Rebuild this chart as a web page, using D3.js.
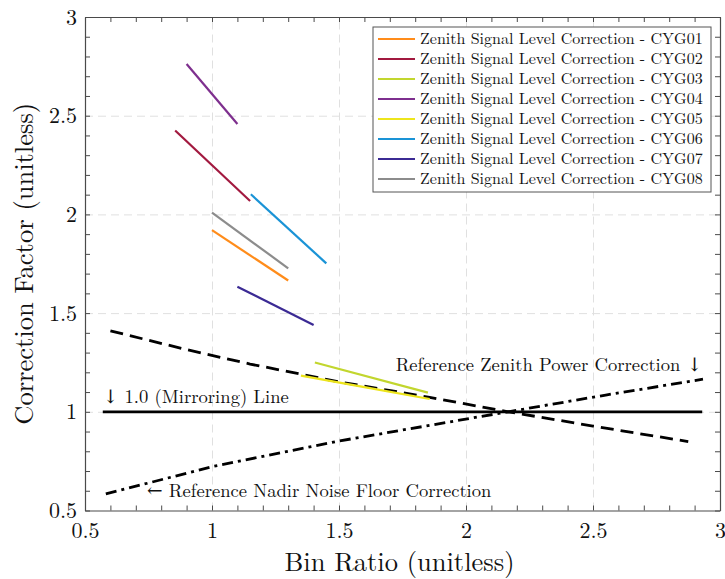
<!DOCTYPE html>
<html>
<head>
<meta charset="utf-8">
<script src="https://cdn.jsdelivr.net/npm/d3@7"></script>
<style>
  body { margin: 0; background: #fff; }
  svg text { font-family: "Latin Modern Roman", "Liberation Serif", serif; }
  svg tspan.arrow { font-family: "DejaVu Serif", "DejaVu Sans", serif; }
</style>
</head>
<body>
<svg id="chart" width="725" height="579"></svg>
<script>
// zenith signal level correction per spacecraft, [bin ratio, factor]
const seriesNames = ["CYG01", "CYG02", "CYG03", "CYG04", "CYG05", "CYG06", "CYG07", "CYG08"];
const seriesColors = ["#ff8c1a", "#a2193f", "#c2d62e", "#7e2f8e", "#ede51c", "#1a93d6", "#3b2a94", "#8c8c8c"];
const cyg01 = [[1.0, 1.92], [1.3, 1.665]];
const cyg02 = [[0.855, 2.425], [1.15, 2.068]];
const cyg03 = [[1.405, 1.25], [1.85, 1.097]];
const cyg04 = [[0.9, 2.762], [1.1, 2.458]];
const cyg05 = [[1.35, 1.183], [1.6, 1.125], [1.857, 1.065]];
const cyg06 = [[1.153, 2.102], [1.45, 1.752]];
const cyg07 = [[1.1, 1.634], [1.4, 1.44]];
const cyg08 = [[1.0, 2.009], [1.3, 1.727]];
const seriesValues = [cyg01, cyg02, cyg03, cyg04, cyg05, cyg06, cyg07, cyg08];

// reference curves
const mirrorLine = [[0.57, 1.0], [2.93, 1.0]];
const zenithPower = [[0.6, 1.41], [0.9, 1.315], [1.15, 1.242], [1.5, 1.152], [1.857, 1.073], [2.166, 1.0], [2.5, 0.928], [2.875, 0.849]];
const nadirNoise = [[0.582, 0.584], [1.0, 0.722], [1.5, 0.852], [2.166, 1.0], [2.55, 1.085], [2.933, 1.165]];

const majorTicks = [0.5, 1, 1.5, 2, 2.5, 3];
const minorTicks = d3.range(5, 31).map((d) => d / 10);

const svg = d3.select("#chart");
const serif = "Latin Modern Roman";
const margin = { top: 17, right: 5, bottom: 68.5, left: 85 };
const width = 725;
const height = 579;
const innerW = width - margin.left - margin.right;
const innerH = height - margin.top - margin.bottom;

const x = d3.scaleLinear().domain([0.5, 3]).range([margin.left, width - margin.right]);
const y = d3.scaleLinear().domain([0.5, 3]).range([height - margin.bottom, margin.top]);

// grid
svg.append("g")
  .attr("transform", `translate(0,${height - margin.bottom})`)
  .call(d3.axisBottom(x).tickValues(majorTicks.slice(1, -1)).tickSize(-innerH).tickFormat(""))
  .call((g) => g.select(".domain").remove())
  .call((g) => g.selectAll("line").attr("stroke", "#e0e0e0").attr("stroke-dasharray", "8,5"));
svg.append("g")
  .attr("transform", `translate(${margin.left},0)`)
  .call(d3.axisLeft(y).tickValues(majorTicks.slice(1, -1)).tickSize(-innerW).tickFormat(""))
  .call((g) => g.select(".domain").remove())
  .call((g) => g.selectAll("line").attr("stroke", "#e0e0e0").attr("stroke-dasharray", "8,5"));

// frame with inward minor ticks
const axisColor = "#4a4a4a";
const styleAxis = (g) => {
  g.select(".domain").attr("stroke", axisColor).attr("stroke-width", 1.2);
  g.selectAll(".tick line").attr("stroke", axisColor);
};
svg.append("g")
  .attr("transform", `translate(0,${height - margin.bottom})`)
  .call(d3.axisBottom(x).tickValues(minorTicks).tickSizeInner(-5).tickSizeOuter(0).tickFormat(""))
  .call(styleAxis);
svg.append("g")
  .attr("transform", `translate(0,${margin.top})`)
  .call(d3.axisTop(x).tickValues(minorTicks).tickSizeInner(-5).tickSizeOuter(0).tickFormat(""))
  .call(styleAxis);
svg.append("g")
  .attr("transform", `translate(${margin.left},0)`)
  .call(d3.axisLeft(y).tickValues(minorTicks).tickSizeInner(-5).tickSizeOuter(0).tickFormat(""))
  .call(styleAxis);
svg.append("g")
  .attr("transform", `translate(${width - margin.right},0)`)
  .call(d3.axisRight(y).tickValues(minorTicks).tickSizeInner(-5).tickSizeOuter(0).tickFormat(""))
  .call(styleAxis);

// tick labels
svg.append("g")
  .attr("transform", `translate(0,${height - margin.bottom})`)
  .call(d3.axisBottom(x).tickValues(majorTicks).tickSize(0).tickPadding(12).tickFormat(d3.format("")))
  .call((g) => g.select(".domain").remove())
  .call((g) => g.selectAll("text").style("font-family", serif).attr("font-size", 22).attr("fill", "#111"));
svg.append("g")
  .attr("transform", `translate(${margin.left},0)`)
  .call(d3.axisLeft(y).tickValues(majorTicks).tickSize(0).tickPadding(8).tickFormat(d3.format("")))
  .call((g) => g.select(".domain").remove())
  .call((g) => g.selectAll("text").style("font-family", serif).attr("font-size", 22).attr("fill", "#111"));

// axis titles
svg.append("text")
  .attr("x", margin.left + innerW / 2 - 3)
  .attr("y", 571)
  .attr("text-anchor", "middle")
  .attr("font-size", 26.5)
  .attr("fill", "#111")
  .text("Bin Ratio (unitless)");
svg.append("text")
  .attr("transform", `translate(33,${margin.top + innerH / 2}) rotate(-90)`)
  .attr("text-anchor", "middle")
  .attr("font-size", 26.5)
  .attr("fill", "#111")
  .text("Correction Factor (unitless)");

const line = d3.line().x((d) => x(d[0])).y((d) => y(d[1]));

// reference lines
svg.append("path")
  .attr("d", line(mirrorLine))
  .attr("fill", "none").attr("stroke", "#000").attr("stroke-width", 2.8);
svg.append("path")
  .attr("d", line(zenithPower))
  .attr("fill", "none").attr("stroke", "#000").attr("stroke-width", 2.8)
  .attr("stroke-dasharray", "13,7");
svg.append("path")
  .attr("d", line(nadirNoise))
  .attr("fill", "none").attr("stroke", "#000").attr("stroke-width", 2.8)
  .attr("stroke-dasharray", "11,5,3,5");

// zenith signal level lines
svg.selectAll(".series")
  .data(seriesValues)
  .join("path")
  .attr("class", "series")
  .attr("d", (d) => line(d))
  .attr("fill", "none")
  .attr("stroke", (d, i) => seriesColors[i])
  .attr("stroke-width", 2.2);

// annotations
const noteSize = 18.6;
const mirrorNote = svg.append("text")
  .attr("x", x(0.57))
  .attr("y", y(1) - 9)
  .attr("font-size", noteSize)
  .attr("fill", "#111");
mirrorNote.append("tspan").attr("class", "arrow").text("\u2193");
mirrorNote.append("tspan").text(" 1.0 (Mirroring) Line");

const zenithNote = svg.append("text")
  .attr("x", x(2.93))
  .attr("y", 371)
  .attr("text-anchor", "end")
  .attr("font-size", noteSize)
  .attr("fill", "#111");
zenithNote.append("tspan").text("Reference Zenith Power Correction ");
zenithNote.append("tspan").attr("class", "arrow").text("\u2193");

const nadirNote = svg.append("text")
  .attr("x", 147)
  .attr("y", 497)
  .attr("font-size", noteSize)
  .attr("fill", "#111");
nadirNote.append("tspan").attr("class", "arrow").text("\u2190");
nadirNote.append("tspan").text(" Reference Nadir Noise Floor Correction");

// legend
const legend = svg.append("g").attr("transform", "translate(373,27)");
legend.append("rect")
  .attr("width", 338).attr("height", 165)
  .attr("fill", "#fff").attr("stroke", "#555").attr("stroke-width", 1);
const rows = legend.selectAll(".row")
  .data(seriesNames)
  .join("g")
  .attr("class", "row")
  .attr("transform", (d, i) => `translate(0,${12 + i * 20})`);
rows.append("line")
  .attr("x1", 5).attr("x2", 42)
  .attr("stroke", (d, i) => seriesColors[i])
  .attr("stroke-width", 2.2);
rows.append("text")
  .attr("x", 47)
  .attr("y", 5)
  .attr("font-size", 16)
  .attr("fill", "#111")
  .text((d) => `Zenith Signal Level Correction - ${d}`);
</script>
</body>
</html>
